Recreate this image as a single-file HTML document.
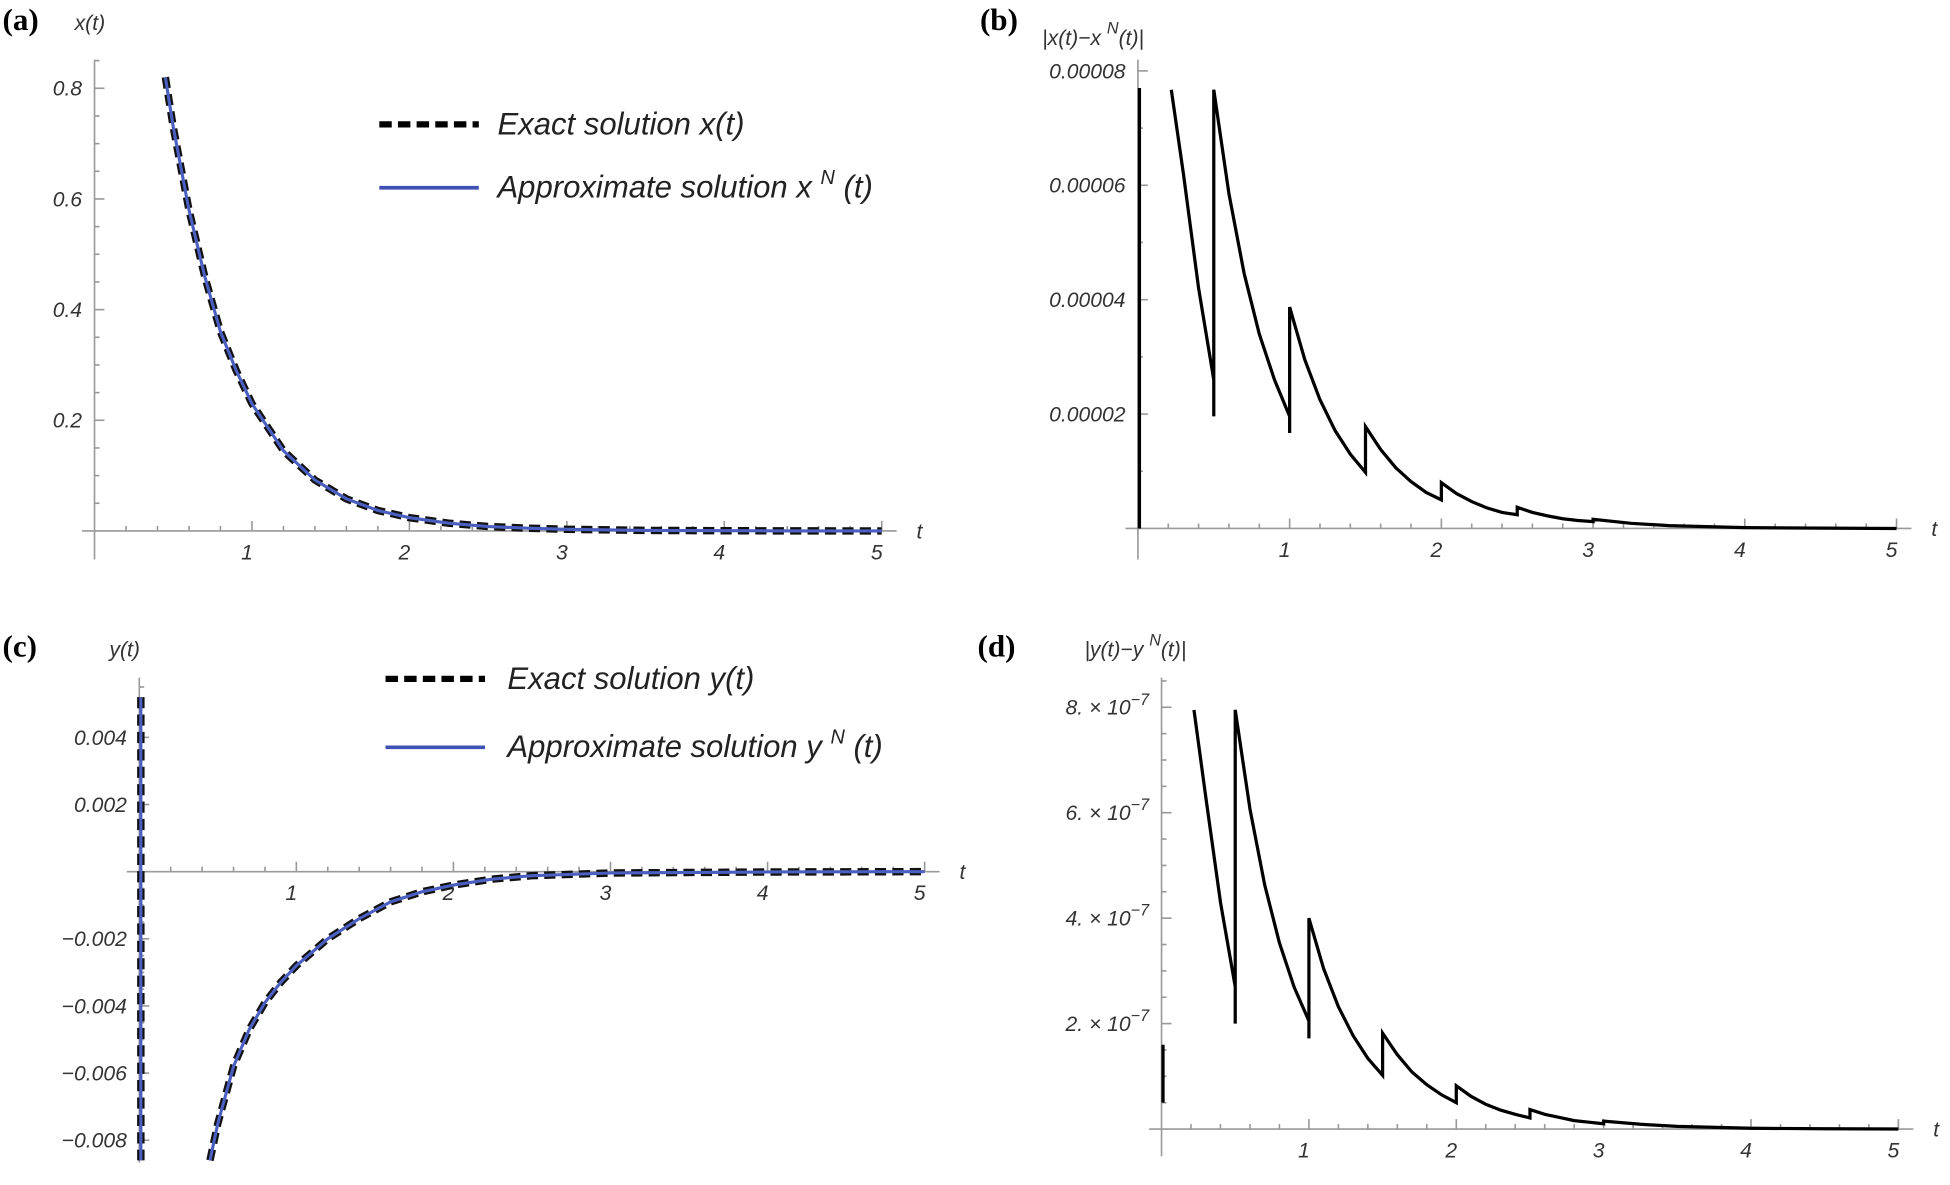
<!DOCTYPE html>
<html><head><meta charset="utf-8"><style>
html,body{margin:0;padding:0;background:#fff;}
svg{display:block;font-family:"Liberation Sans",sans-serif;}
</style></head>
<body>
<svg id="fig" width="1950" height="1185" viewBox="0 0 1568 953" preserveAspectRatio="none" xmlns="http://www.w3.org/2000/svg">
<g style="font-family:'Liberation Serif',serif;font-weight:bold;font-size:25px" fill="#000">
<text x="2" y="24">(a)</text>
<text x="788" y="24">(b)</text>
<text x="2" y="528">(c)</text>
<text x="786" y="528">(d)</text>
</g>
<g font-style="italic" font-size="17" fill="#333">
<text x="60" y="24">x(t)</text>
<text x="838" y="36">|x(t)−x <tspan dy="-9" font-size="13">N</tspan><tspan dy="9">(t)|</tspan></text>
<text x="88" y="528">y(t)</text>
<text x="872" y="528">|y(t)−y <tspan dy="-9" font-size="13">N</tspan><tspan dy="9">(t)|</tspan></text>
</g>
<g font-style="italic" font-size="25" fill="#222">
<line x1="305" y1="100" x2="385" y2="100" stroke="#000" stroke-width="5" stroke-dasharray="10,5"/>
<text x="400" y="108">Exact  solution  x(t)</text>
<line x1="305" y1="151" x2="385" y2="151" stroke="#3f51b5" stroke-width="3"/>
<text x="400" y="159">Approximate  solution  x <tspan dy="-11" font-size="16">N</tspan><tspan dy="11"> (t)</tspan></text>
<line x1="310" y1="546" x2="390" y2="546" stroke="#000" stroke-width="5" stroke-dasharray="10,5"/>
<text x="408" y="554">Exact  solution  y(t)</text>
<line x1="310" y1="601" x2="390" y2="601" stroke="#3f51b5" stroke-width="3"/>
<text x="408" y="609">Approximate  solution  y <tspan dy="-11" font-size="16">N</tspan><tspan dy="11"> (t)</tspan></text>
</g>
</svg>
<script>
// null marks a break between separate line pieces
const aT = [0.45,0.5,0.6,0.7,0.8,0.9,1.0,1.2,1.4,1.6,1.8,2.0,2.25,2.5,2.75,3.0,3.5,4.0,4.5,5.0];
const aX = [0.82,0.73,0.58,0.46,0.36,0.29,0.23,0.145,0.092,0.058,0.037,0.024,0.014,0.008,0.005,0.003,0.001,0.0004,0.0001,0];
const aYTicks = [0.2,0.4,0.6,0.8];
const aYTickLabels = ["0.2","0.4","0.6","0.8"];
const bT = [0.01,0.01,null,0.22,0.3,0.4,0.5,0.5,0.5,0.6,0.7,0.8,0.9,1.0,1.0,1.0,1.1,1.2,1.3,1.4,1.5,1.5,1.5,1.6,1.7,1.8,1.9,2.0,2.0,2.0,2.1,2.2,2.3,2.4,2.5,2.5,2.5,2.6,2.7,2.8,2.9,3.0,3.0,3.25,3.5,4.0,4.5,5.0];
const bV = [0,7.7,null,7.67,6.2,4.2,2.6,1.96,7.67,5.85,4.46,3.4,2.6,1.96,1.67,3.87,2.95,2.25,1.71,1.3,0.98,0.98,1.78,1.38,1.06,0.82,0.63,0.5,0.5,0.8,0.61,0.47,0.36,0.28,0.24,0.24,0.37,0.28,0.22,0.17,0.14,0.12,0.16,0.09,0.05,0.015,0.005,0];
const bYTicks = [2,4,6,8];
const bYTickLabels = ["0.00002","0.00004","0.00006","0.00008"];
const cT = [0.01,0.01,null,0.45,0.5,0.6,0.7,0.8,0.9,1.0,1.2,1.4,1.6,1.8,2.0,2.25,2.5,3.0,4.0,5.0];
const cY = [0.0052,-0.0086,null,-0.0086,-0.0075,-0.0058,-0.0047,-0.0039,-0.0033,-0.0028,-0.002,-0.0014,-0.0009,-0.0006,-0.0004,-0.00022,-0.00012,-0.00004,-0.00001,0];
const cYTicks = [0.004,0.002,-0.002,-0.004,-0.006,-0.008];
const cYTickLabels = ["0.004","0.002","−0.002","−0.004","−0.006","−0.008"];
const dT = [0.01,0.01,null,0.22,0.3,0.4,0.5,0.5,0.5,0.6,0.7,0.8,0.9,1.0,1.0,1.0,1.1,1.2,1.3,1.4,1.5,1.5,1.5,1.6,1.7,1.8,1.9,2.0,2.0,2.0,2.1,2.2,2.3,2.4,2.5,2.5,2.5,2.6,2.7,2.8,2.9,3.0,3.0,3.25,3.5,4.0,4.5,5.0];
const dV = [0.5,1.6,null,7.95,6.3,4.3,2.7,2.0,7.95,6.07,4.63,3.53,2.69,2.05,1.72,4.0,3.04,2.32,1.77,1.34,1.02,1.02,1.82,1.41,1.08,0.84,0.65,0.5,0.5,0.82,0.62,0.47,0.36,0.28,0.21,0.21,0.37,0.28,0.22,0.16,0.13,0.1,0.15,0.09,0.05,0.015,0.005,0];
const dYTicks = [2,4,6,8];
const dYTickLabels = ["2.","4.","6.","8."];
const xTicks = [1,2,3,4,5];

const NS="http://www.w3.org/2000/svg";
const svg=document.getElementById('fig');
function mk(tag,attrs,parent){const e=document.createElementNS(NS,tag);for(const k in attrs)e.setAttribute(k,attrs[k]);(parent||svg).appendChild(e);return e;}

function panel(id,P){
  const g=mk('g',{});
  
  
  const sx=t=>P.x0+t*P.ux, sy=v=>P.y0-v*P.uy;
  const ax=mk('g',{stroke:'#999','stroke-width':1.3},g);
  
  
  mk('line',{x1:P.x0-10,y1:P.y0,x2:sx(5)+12,y2:P.y0},ax);
  mk('line',{x1:P.x0,y1:P.yTop,x2:P.x0,y2:P.yBot},ax);
  for(let i=1;i<=25;i++){const t=i*0.2;const maj=i%5===0;
    mk('line',{x1:sx(t),y1:P.y0,x2:sx(t),y2:P.y0-(maj?8:4)},ax);}
  const isMaj=v=>Math.abs(v/P.majStep-Math.round(v/P.majStep))<1e-6;
  for(let v=P.minStep;v<=P.yMax+1e-12;v+=P.minStep)
    mk('line',{x1:P.x0,y1:sy(v),x2:P.x0+(isMaj(v)?8:4),y2:sy(v)},ax);
  if(P.yMin<0){for(let v=-P.minStep;v>=P.yMin-1e-12;v-=P.minStep)
    mk('line',{x1:P.x0,y1:sy(v),x2:P.x0+(isMaj(v)?8:4),y2:sy(v)},ax);}
  const lab=mk('g',{'font-style':'italic','font-size':17,fill:'#333'},g);
  xTicks.forEach(t=>{const e=mk('text',{x:sx(t)-4,y:P.y0+23,'text-anchor':'middle'},lab);e.textContent=t;
    
    });
  const tl=mk('text',{x:sx(5)+28,y:P.y0+6},lab);tl.textContent='t';
  
  
  P.yt.forEach((v,i)=>{const e=mk('text',{x:P.x0-10,y:sy(v)+6,'text-anchor':'end'},lab);
    if(P.sci){e.textContent=P.yl[i]+' × 10';const s=mk('tspan',{dy:-8,'font-size':13},e);s.textContent='−7';}
    else e.textContent=P.yl[i];
    
    });
  let d='',pen=false;
  P.T.forEach((t,i)=>{ if(t===null||P.V[i]===null){pen=false;return;}
    d+=(pen?'L':'M')+sx(t).toFixed(2)+','+sy(P.V[i]).toFixed(2)+' '; pen=true;});
  if(P.exact){
    const e=mk('path',{d:d,fill:'none',stroke:'#111','stroke-width':6,'stroke-dasharray':'9,5'},g);
    
    
    const b=mk('path',{d:d,fill:'none',stroke:'#4a5fbf','stroke-width':2.5},g);
    
    
  } else {
    const l=mk('path',{d:d,fill:'none',stroke:'#000','stroke-width':2.6,'stroke-linejoin':'miter'},g);
    
    
  }
}
panel('a',{x0:76,ux:126.6,y0:427,uy:445,yTop:48,yBot:450,yMax:0.85,yMin:0,minStep:0.05,majStep:0.2,yt:aYTicks,yl:aYTickLabels,T:aT,V:aX,exact:true});
panel('b',{x0:915,ux:122,y0:425,uy:46,yTop:48,yBot:450,yMax:8,yMin:0,minStep:1,majStep:2,yt:bYTicks,yl:bYTickLabels,T:bT,V:bV,exact:false});
panel('c',{x0:112,ux:126.3,y0:701,uy:27000,yTop:545,yBot:935,yMax:0.0055,yMin:-0.0085,minStep:0.0005,majStep:0.002,yt:cYTicks,yl:cYTickLabels,T:cT,V:cY,exact:true});
panel('d',{x0:934,ux:118.5,y0:908,uy:42.4,yTop:545,yBot:930,yMax:8.5,yMin:0,minStep:0.5,majStep:2,yt:dYTicks,yl:dYTickLabels,T:dT,V:dV,exact:false,sci:true});
</script>
</body></html>
